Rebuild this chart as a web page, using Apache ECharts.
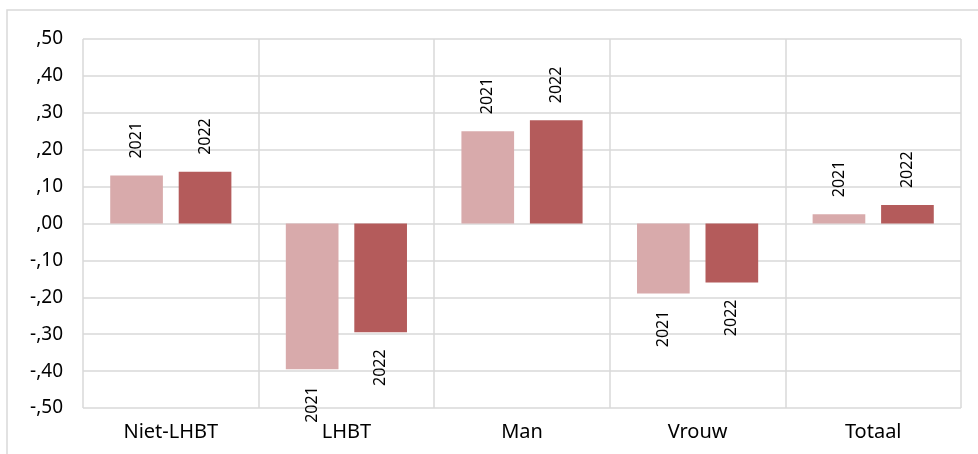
<!DOCTYPE html>
<html>
<head>
<meta charset="utf-8">
<script src="https://cdn.jsdelivr.net/npm/echarts@6/dist/echarts.min.js"></script>
<style>
  html, body { margin: 0; padding: 0; background: #fff; }
  #chart { width: 978px; height: 454px; }
</style>
</head>
<body>
<div id="chart"></div>
<script>
var categories = ['Niet-LHBT', 'LHBT', 'Man', 'Vrouw', 'Totaal'];
var years = ['2021', '2022'];
var values2021 = [0.13, -0.395, 0.25, -0.19, 0.025];
var values2022 = [0.14, -0.295, 0.28, -0.16, 0.05];
var colors = ['#d8aaab', '#b45b5b'];

var font = 'Noto Sans';

// komma-notatie zoals ,10 en -,10
function fmt(v) {
    var s = Math.abs(v).toFixed(2).split('.')[1];
    return (v < -0.0001 ? '-' : '') + ',' + s;
}

function makeData(values, name) {
    return values.map(function (v) {
        var neg = v < 0;
        return {
            value: v,
            label: {
                position: neg ? 'bottom' : 'top',
                align: neg ? 'right' : 'left',
                formatter: name
            }
        };
    });
}

function makeSeries(values, idx) {
    return {
        name: years[idx],
        type: 'bar',
        barWidth: '30%',
        barGap: '30%',
        itemStyle: { color: colors[idx] },
        label: {
            show: true,
            rotate: 90,
            distance: 17,
            verticalAlign: 'middle',
            color: '#000',
            fontFamily: font,
            fontSize: 16
        },
        data: makeData(values, years[idx])
    };
}

var chart = echarts.init(document.getElementById('chart'));
chart.setOption({
    animation: false,
    grid: { left: 83, right: 17, top: 39, bottom: 46 },
    graphic: [{
        type: 'rect',
        shape: { x: 7, y: 10, width: 990, height: 460 },
        style: { fill: 'none', stroke: '#d9d9d9', lineWidth: 1.5 },
        silent: true
    }],
    xAxis: {
        type: 'category',
        data: categories,
        axisLine: { show: false },
        axisTick: { show: false },
        splitLine: { show: true, lineStyle: { color: '#d9d9d9', width: 1.5 } },
        axisLabel: { color: '#000', fontFamily: font, fontSize: 20, margin: 14 }
    },
    yAxis: {
        type: 'value',
        min: -0.5,
        max: 0.5,
        interval: 0.1,
        axisLine: { show: false },
        axisTick: { show: false },
        splitLine: { lineStyle: { color: '#d9d9d9', width: 1.5 } },
        axisLabel: { color: '#000', fontFamily: font, fontSize: 19, margin: 20, formatter: fmt }
    },
    series: [makeSeries(values2021, 0), makeSeries(values2022, 1)]
});
</script>
</body>
</html>
